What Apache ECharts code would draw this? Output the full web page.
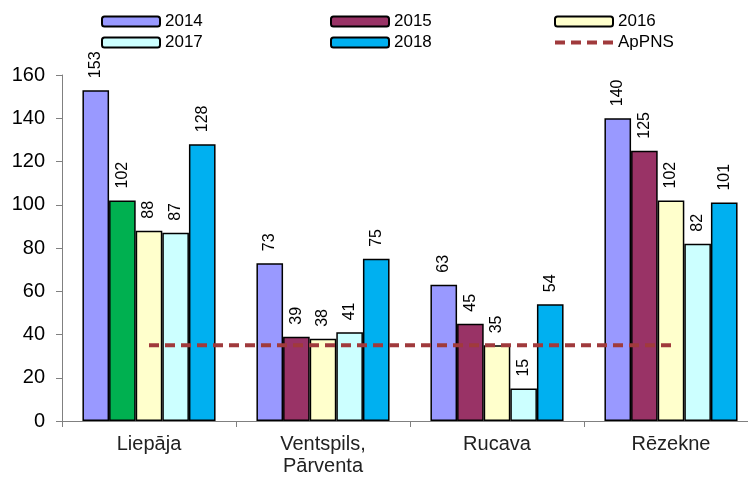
<!DOCTYPE html>
<html>
<head>
<meta charset="utf-8">
<script src="https://cdn.jsdelivr.net/npm/echarts@6/dist/echarts.min.js"></script>
<style>
  html, body { margin: 0; padding: 0; background: #fff; overflow: hidden; }
  #chart { width: 758px; height: 477px; }
</style>
</head>
<body>
<div id="chart"></div>
<script>
// Sites and yearly values
const categories = ['Liepāja', 'Ventspils,\nPārventa', 'Rucava', 'Rēzekne'];
const years = ['2014', '2015', '2016', '2017', '2018'];
const v2014 = [153, 73, 63, 140];
const v2015 = [102, 39, 45, 125];
const v2016 = [88, 38, 35, 102];
const v2017 = [87, 41, 15, 82];
const v2018 = [128, 75, 54, 101];
const apPNS = [35, 35, 35, 35];
const yTicks = [0, 20, 40, 60, 80, 100, 120, 140, 160];

const colors = ['#9999FF', '#993366', '#FFFFCC', '#CCFFFF', '#00B0F0'];
const values = [v2014, v2015, v2016, v2017, v2018];

const font = 'Liberation Sans, Arial, sans-serif';

const barSeries = years.map((y, i) => ({
  name: y,
  type: 'bar',
  barGap: 0,
  barCategoryGap: '23.5%',
  itemStyle: { color: colors[i], borderColor: '#000', borderWidth: 1.5 },
  label: {
    show: true,
    position: 'top',
    rotate: 90,
    align: 'left',
    verticalAlign: 'middle',
    distance: 12,
    color: '#000',
    fontFamily: font,
    fontSize: 16
  },
  data: values[i].map((v, k) => (i === 1 && k === 0)
    ? { value: v, itemStyle: { color: '#00B050' } }
    : v)
}));

const legendBase = {
  orient: 'vertical',
  top: 8,
  itemWidth: 58,
  itemHeight: 10,
  itemGap: 4,
  textStyle: { fontFamily: font, fontSize: 17, color: '#000', lineHeight: 16 }
};

const option = {
  backgroundColor: '#fff',
  animation: false,
  grid: { left: 62, right: 0, top: 75, bottom: 56, containLabel: false, outerBoundsMode: 'none' },
  legend: [
    Object.assign({ left: 96, data: ['2014', '2017'] }, legendBase),
    Object.assign({ left: 325, data: ['2015', '2018'] }, legendBase),
    Object.assign({ left: 548, data: ['2016', {
      name: 'ApPNS',
      itemStyle: { opacity: 0 },
      lineStyle: { width: 4, type: [10, 6], color: '#A03A3C' }
    }] }, legendBase)
  ],
  xAxis: {
    type: 'category',
    data: categories,
    axisLine: { lineStyle: { color: '#808080', width: 1 } },
    axisTick: { show: true, length: 6, lineStyle: { color: '#808080' } },
    axisLabel: { fontFamily: font, fontSize: 20, color: '#222', margin: 12, lineHeight: 22 }
  },
  yAxis: {
    type: 'value',
    min: yTicks[0],
    max: yTicks[yTicks.length - 1],
    interval: 20,
    splitLine: { show: false },
    axisLine: { show: true, lineStyle: { color: '#808080', width: 1 } },
    axisTick: { show: true, length: 6, lineStyle: { color: '#808080' } },
    axisLabel: { fontFamily: font, fontSize: 20, color: '#000', margin: 17 }
  },
  series: barSeries.concat([{
    name: 'ApPNS',
    type: 'line',
    symbol: 'none',
    data: apPNS,
    z: 5,
    itemStyle: { color: '#A03A3C' },
    lineStyle: { color: '#A03A3C', width: 4, type: [10, 6] }
  }])
};

const chart = echarts.init(document.getElementById('chart'), null, { renderer: 'canvas' });
chart.setOption(option);
</script>
</body>
</html>
